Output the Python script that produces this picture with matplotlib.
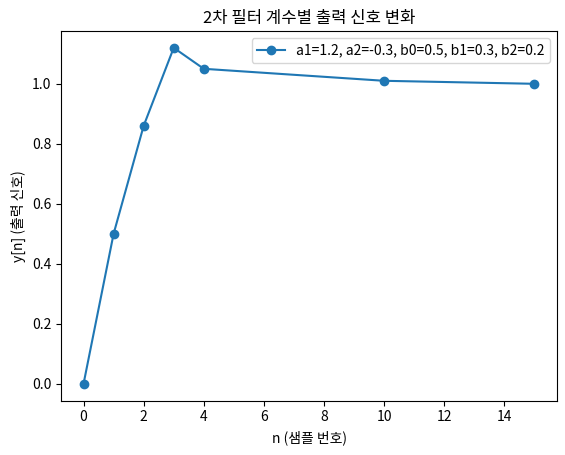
import matplotlib
matplotlib.use("Agg")
import matplotlib.pyplot as plt

plt.rcParams["font.family"] = ["Noto Sans CJK KR", "DejaVu Sans"]
plt.rcParams["axes.unicode_minus"] = False

# 샘플 번호와 출력 신호
n_samples = [0, 1, 2, 3, 4, 10, 15]
y_output = [0.0, 0.5, 0.86, 1.12, 1.05, 1.01, 1.0]
series_label = "a1=1.2, a2=-0.3, b0=0.5, b1=0.3, b2=0.2"

W, H = 565, 455
fig = plt.figure(figsize=(W / 100, H / 100), dpi=100)
ax = fig.add_axes([61 / W, (H - 400.6) / H, 496 / W, 369.6 / H])

ax.plot(n_samples, y_output, marker="o", color="#1f77b4", label=series_label)
ax.set_title("2차 필터 계수별 출력 신호 변화")
ax.set_xlabel("n (샘플 번호)")
ax.set_ylabel("y[n] (출력 신호)")
ax.legend(loc="upper right")

fig.savefig("out.png", dpi=100)
